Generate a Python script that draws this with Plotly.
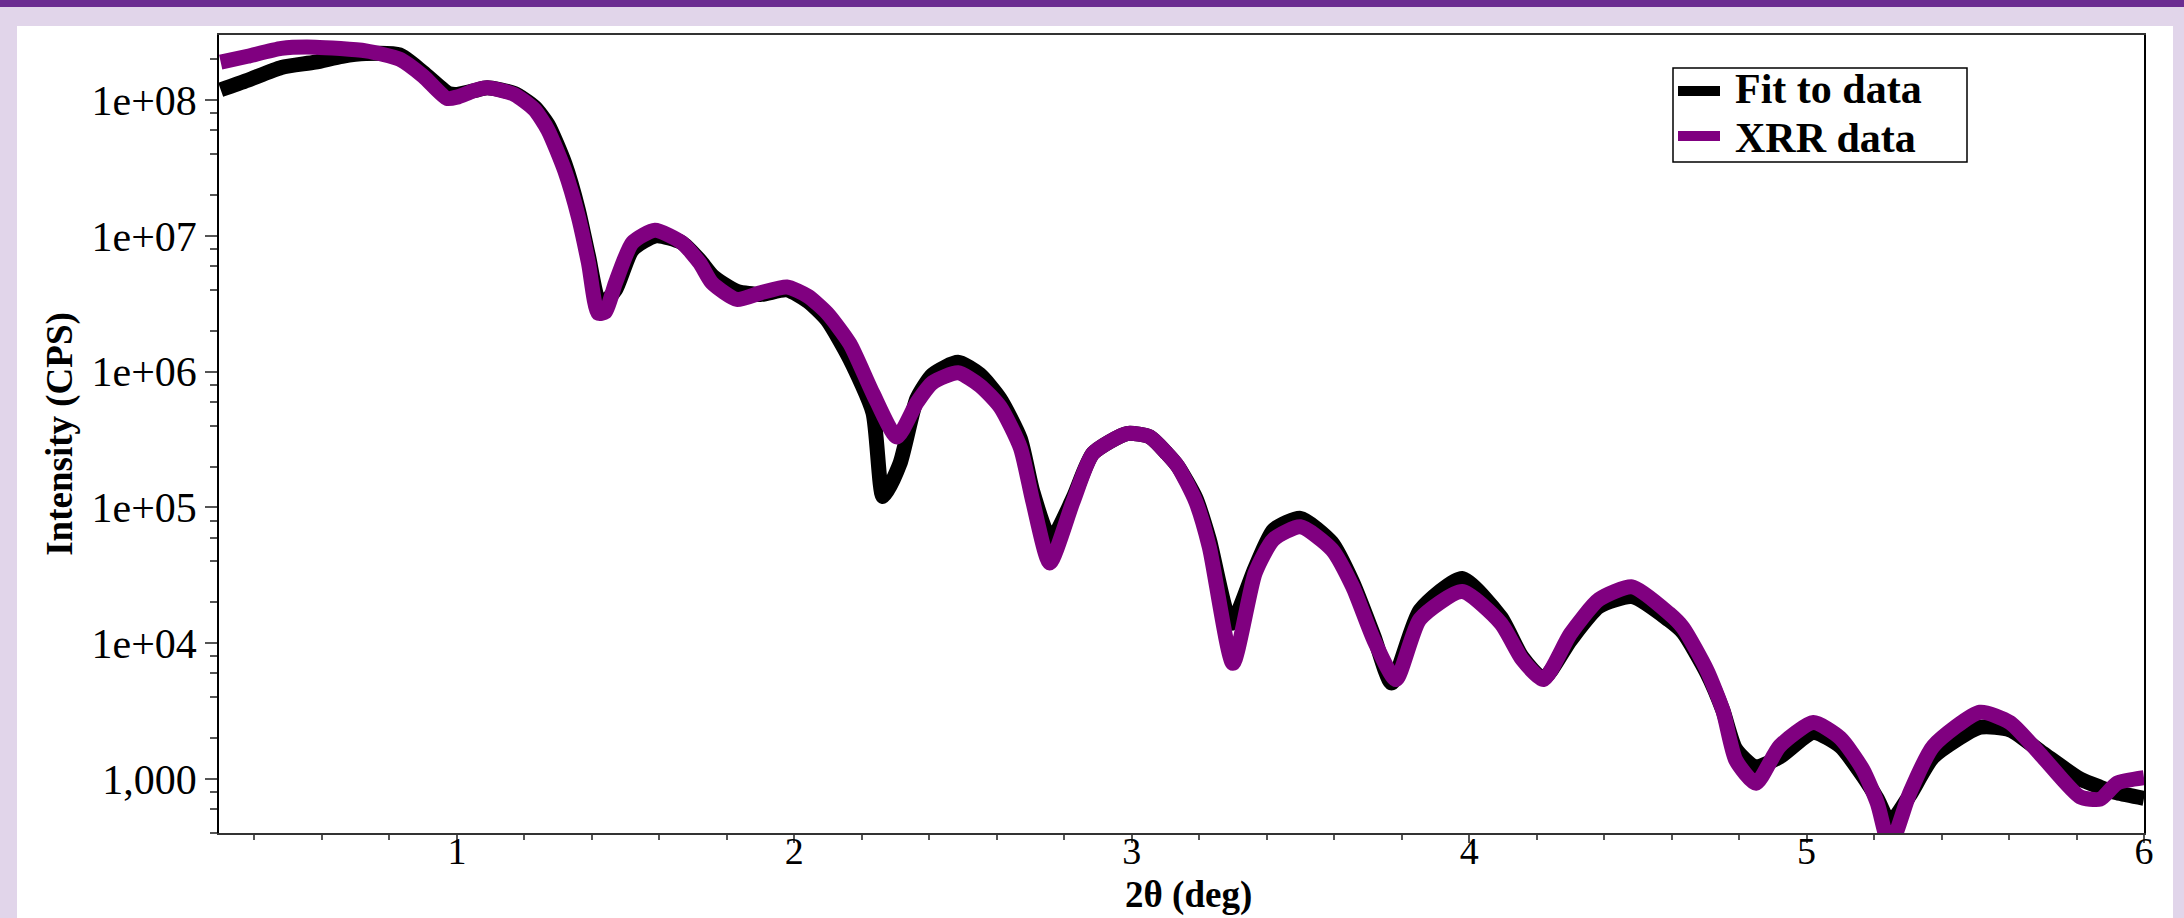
import plotly.graph_objects as go

# ---- data (2theta in deg, intensity in CPS) ----
xrr_x = [0.30, 0.38, 0.48, 0.58, 0.73, 0.83, 0.90, 0.97, 1.00, 1.05, 1.09, 1.17, 1.23, 1.27,
         1.32, 1.36, 1.39, 1.418, 1.44, 1.47, 1.52, 1.587, 1.667, 1.72, 1.756, 1.83, 1.90,
         1.978, 2.04, 2.097, 2.165, 2.233, 2.304, 2.363, 2.41, 2.485, 2.55, 2.61, 2.67, 2.707,
         2.757, 2.826, 2.885, 2.986, 3.054, 3.104, 3.137, 3.19, 3.23, 3.30, 3.366, 3.42, 3.50,
         3.593, 3.655, 3.718, 3.783, 3.854, 3.979, 4.094, 4.157, 4.22, 4.30, 4.385, 4.483,
         4.592, 4.634, 4.705, 4.752, 4.79, 4.85, 4.92, 5.02, 5.10, 5.167, 5.21, 5.247, 5.306,
         5.375, 5.514, 5.603, 5.70, 5.81, 5.87, 5.92, 6.00]
xrr_y = [1.9e8, 2.1e8, 2.4e8, 2.45e8, 2.3e8, 2.0e8, 1.5e8, 1.03e8, 1.05e8, 1.17e8, 1.23e8,
         1.1e8, 8.5e7, 6.0e7, 3.0e7, 1.38e7, 6.3e6, 2.7e6, 2.75e6, 4.5e6, 8.9e6, 1.1e7, 8.9e6,
         6.3e6, 4.5e6, 3.4e6, 3.8e6, 4.2e6, 3.6e6, 2.7e6, 1.6e6, 6.9e5, 3.3e5, 5.9e5, 8.3e5,
         9.8e5, 7.9e5, 5.5e5, 2.75e5, 1.1e5, 3.9e4, 1.1e5, 2.5e5, 3.5e5, 3.3e5, 2.5e5, 2.0e5,
         1.1e5, 5.1e4, 7.1e3, 3.3e4, 5.8e4, 7.2e4, 4.9e4, 2.6e4, 1.05e4, 5.4e3, 1.5e4, 2.4e4,
         1.4e4, 7.6e3, 5.4e3, 1.17e4, 2.1e4, 2.6e4, 1.66e4, 1.3e4, 6.3e3, 3.2e3, 1.38e3, 930,
         1.74e3, 2.6e3, 2.0e3, 1.17e3, 660, 320, 790, 1.74e3, 3.1e3, 2.6e3, 1.45e3, 740, 710,
         930, 1.02e3]

fit_x = [0.30, 0.38, 0.48, 0.58, 0.66, 0.73, 0.83, 0.90, 0.975, 1.00, 1.05, 1.09, 1.17, 1.23,
         1.27, 1.32, 1.36, 1.39, 1.425, 1.47, 1.52, 1.59, 1.667, 1.72, 1.76, 1.83, 1.90, 1.978,
         2.04, 2.097, 2.165, 2.233, 2.263, 2.313, 2.363, 2.41, 2.485, 2.55, 2.61, 2.67, 2.707,
         2.76, 2.826, 2.885, 2.986, 3.054, 3.104, 3.137, 3.19, 3.23, 3.295, 3.366, 3.42, 3.50,
         3.593, 3.655, 3.718, 3.77, 3.854, 3.979, 4.094, 4.157, 4.22, 4.30, 4.385, 4.483,
         4.592, 4.634, 4.705, 4.752, 4.79, 4.848, 4.92, 5.02, 5.10, 5.167, 5.21, 5.247, 5.306,
         5.375, 5.514, 5.603, 5.70, 5.81, 5.87, 5.92, 6.00]
fit_y = [1.19e8, 1.4e8, 1.74e8, 1.9e8, 2.1e8, 2.2e8, 2.15e8, 1.6e8, 1.12e8, 1.1e8, 1.17e8,
         1.23e8, 1.12e8, 8.9e7, 6.6e7, 3.4e7, 1.55e7, 7.1e6, 3.1e6, 4.0e6, 7.9e6, 1.0e7, 8.9e6,
         6.6e6, 5.0e6, 3.9e6, 3.7e6, 4.0e6, 3.3e6, 2.4e6, 1.23e6, 5.0e5, 1.2e5, 2.1e5, 6.3e5,
         9.5e5, 1.17e6, 9.5e5, 6.3e5, 3.2e5, 1.3e5, 5.8e4, 1.17e5, 2.5e5, 3.5e5, 3.3e5, 2.5e5,
         2.0e5, 1.17e5, 5.8e4, 1.4e4, 3.6e4, 6.8e4, 8.3e4, 5.5e4, 2.8e4, 1.12e4, 5.1e3, 1.74e4,
         3.0e4, 1.55e4, 7.9e3, 5.5e3, 1.05e4, 1.86e4, 2.2e4, 1.48e4, 1.2e4, 6.0e3, 3.2e3,
         1.66e3, 1.23e3, 1.45e3, 2.2e3, 1.74e3, 1.05e3, 710, 480, 760, 1.45e3, 2.4e3, 2.3e3,
         1.55e3, 1.0e3, 870, 790, 720]

series_names = ["Fit to data", "XRR data"]
x_title = "2θ (deg)"
y_title = "Intensity (CPS)"
x_ticks = [1, 2, 3, 4, 5, 6]
y_ticks = [1e3, 1e4, 1e5, 1e6, 1e7, 1e8]
y_tick_text = ["1,000", "1e+04", "1e+05", "1e+06", "1e+07", "1e+08"]
y_minor = [m * 10 ** d for d in range(2, 9) for m in (2, 4, 6, 8)]

SERIF = "Liberation Serif, Times New Roman, serif"
PURPLE = "#800080"
LAVENDER = "#e1d5ea"
COLORS = ["black", PURPLE]

fig = go.Figure()
fig.add_trace(go.Scatter(x=fit_x, y=fit_y, mode="lines", name=series_names[0],
                         line=dict(color=COLORS[0], width=15, shape="spline", smoothing=0.6)))
fig.add_trace(go.Scatter(x=xrr_x, y=xrr_y, mode="lines", name=series_names[1],
                         line=dict(color=COLORS[1], width=15, shape="spline", smoothing=0.6)))

# plot area: x 219..2144, y 35..833 in a 2184x918 page
L, R, T, B = 219, 40, 35, 85
W, H = 2184, 918
pw, ph = W - L - R, H - T - B


def px(x):
    return (x - L) / pw


def py(y):
    return (H - B - y) / ph


# page background: white panel and purple top band
fig.add_shape(type="rect", xref="paper", yref="paper", layer="below",
              x0=px(17), x1=px(2173), y0=py(930), y1=py(26),
              fillcolor="white", line=dict(width=0))
fig.add_shape(type="rect", xref="paper", yref="paper", layer="below",
              x0=px(-10), x1=px(2200), y0=py(7), y1=py(-10),
              fillcolor="#6b2c91", line=dict(width=0))

# legend box drawn by hand to match the reference proportions
fig.add_shape(type="rect", xref="paper", yref="paper",
              x0=px(1673), x1=px(1967), y0=py(162), y1=py(68),
              fillcolor="white", line=dict(color="black", width=1.5))
for name, col, ys, yt in zip(series_names, COLORS, [91, 136], [89, 138]):
    fig.add_shape(type="line", xref="paper", yref="paper",
                  x0=px(1678), x1=px(1720), y0=py(ys), y1=py(ys),
                  line=dict(color=col, width=10))
    fig.add_annotation(xref="paper", yref="paper", x=px(1733), y=py(yt),
                       xanchor="left", yanchor="middle", showarrow=False,
                       text="<b>%s</b>" % name,
                       font=dict(family=SERIF, size=42, color="black"))

# x-axis title placed just under the tick labels, as in the reference
fig.add_annotation(xref="paper", yref="paper", x=px(1188), y=py(918),
                   xanchor="center", yanchor="bottom", showarrow=False,
                   text="<b>%s</b>" % x_title,
                   font=dict(family=SERIF, size=37, color="black"))

fig.update_layout(
    width=W, height=H,
    margin=dict(l=L, r=R, t=T, b=B, autoexpand=False),
    paper_bgcolor=LAVENDER,
    plot_bgcolor="white",
    font=dict(family=SERIF, color="black", size=40),
    showlegend=False,
    xaxis=dict(range=[0.295, 6], tickvals=x_ticks, ticks="outside", ticklen=8,
               tickwidth=1.5, tickcolor="#555555", showline=True, linecolor="#333333",
               linewidth=1.5, mirror=True, showgrid=False, zeroline=False,
               tickfont=dict(family=SERIF, size=38), ticklabelstandoff=-24,
               minor=dict(dtick=0.2, tick0=0, ticks="outside", ticklen=5,
                          tickwidth=1.5, tickcolor="#555555", showgrid=False)),
    yaxis=dict(type="log", range=[2.602, 8.479], tickvals=y_ticks, ticktext=y_tick_text,
               ticks="outside", ticklen=12, tickwidth=1.5, tickcolor="#555555",
               showline=True, linecolor="black", linewidth=1.5, mirror=True,
               showgrid=False, zeroline=False,
               tickfont=dict(family=SERIF, size=42),
               minor=dict(tickmode="array", tickvals=y_minor, ticks="outside", ticklen=7,
                          tickwidth=1.5, tickcolor="#555555", showgrid=False),
               title=dict(text="<b>%s</b>" % y_title, standoff=8,
                          font=dict(family=SERIF, size=37))),
)

fig.write_html("out.html", config={"displayModeBar": False},
               post_script="document.body.style.margin='0';document.body.style.overflow='hidden';")
